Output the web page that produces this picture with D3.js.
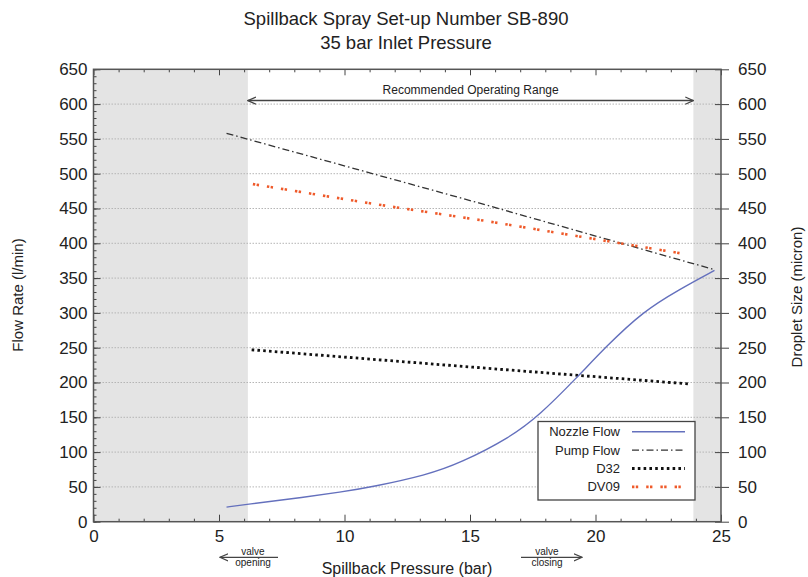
<!DOCTYPE html>
<html>
<head>
<meta charset="utf-8">
<script src="https://cdn.jsdelivr.net/npm/d3@7"></script>
<style>
body{margin:0;background:#fff;}
text{font-family:"Liberation Sans",Arial,Helvetica,sans-serif;fill:#222;}
</style>
</head>
<body>
<svg id="chart" width="808" height="577"></svg>
<script>
// values
var nozzleX = [5.3, 6.1, 7.94, 9.94, 11.1, 13.26, 14.6, 16.6, 17.77, 19.23, 20.43, 21.89, 23.35, 24.74];
var nozzleY = [21, 25, 33, 43, 50, 67, 84, 121, 153, 206, 252, 302, 334, 361];
var pumpX = [5.3, 15.35, 24.75];
var pumpY = [558, 458, 362];
var d32X = [6.3, 15.12, 23.7];
var d32Y = [247, 222, 198];
var dv09X = [6.35, 11.27, 15.65, 23.5];
var dv09Y = [485, 456, 432, 385];
var xTicks = [0, 5, 10, 15, 20, 25];
var yTicks = [0, 50, 100, 150, 200, 250, 300, 350, 400, 450, 500, 550, 600, 650];
var xMinor = [1,2,3,4,6,7,8,9,11,12,13,14,16,17,18,19,21,22,23,24];
var shadeFrom = [0, 23.9];
var shadeTo = [6.15, 25];
var rangeFrom = 6.15, rangeTo = 23.9, rangeLevel = 605;

var margin = {left: 93.5, top: 69.3, right: 87, bottom: 55.3};
var width = 808 - margin.left - margin.right;
var height = 577 - margin.top - margin.bottom;

var svg = d3.select('#chart');
var g = svg.append('g').attr('transform', `translate(${margin.left},${margin.top})`);

var x = d3.scaleLinear().domain([0, 25]).range([0, width]);
var y = d3.scaleLinear().domain([0, 650]).range([height, 0]);

var defs = svg.append('defs');
defs.append('marker').attr('id', 'ah').attr('viewBox', '0 0 10 10')
    .attr('refX', 9).attr('refY', 5).attr('markerWidth', 9).attr('markerHeight', 9)
    .attr('markerUnits', 'userSpaceOnUse').attr('orient', 'auto-start-reverse')
  .append('path').attr('d', 'M0,1 L9,5 L0,9').attr('fill', 'none').attr('stroke', '#444').attr('stroke-width', 1.3);

// shaded regions
g.selectAll('.shade').data(shadeFrom).enter().append('rect')
    .attr('x', (d, i) => x(d)).attr('y', 0)
    .attr('width', (d, i) => x(shadeTo[i]) - x(d)).attr('height', height)
    .attr('fill', '#e4e4e4');

// grid
g.selectAll('.grid').data(yTicks.slice(1, -1)).enter().append('line')
    .attr('x1', 0).attr('x2', width).attr('y1', d => y(d)).attr('y2', d => y(d))
    .attr('stroke', '#b5b5b5').attr('stroke-width', 1).attr('stroke-dasharray', '1.5,1.5');

// axes
function clean(sel){ sel.select('.domain').remove(); sel.selectAll('line').attr('stroke', '#444'); }
g.append('g').call(d3.axisLeft(y).tickValues(d3.range(0, 651, 10)).tickSize(-3).tickFormat('')).call(clean);
g.append('g').call(d3.axisLeft(y).tickValues(yTicks).tickSize(-7).tickPadding(6)).call(clean)
  .selectAll('text').style('font-size', '17px').attr('fill', '#222');
g.append('g').attr('transform', `translate(${width},0)`)
  .call(d3.axisRight(y).tickValues(yTicks).tickSize(8).tickPadding(9)).call(clean)
  .selectAll('text').style('font-size', '17px').attr('fill', '#222');
g.append('g').attr('transform', `translate(${width},0)`)
  .call(d3.axisRight(y).tickValues(yTicks).tickSize(-6).tickFormat('')).call(clean);
g.append('g').attr('transform', `translate(0,${height})`)
  .call(d3.axisBottom(x).tickValues(xMinor).tickSize(-3).tickFormat('')).call(clean);
g.append('g').attr('transform', `translate(0,${height})`)
  .call(d3.axisBottom(x).tickValues(xTicks).tickSize(-7).tickPadding(8)).call(clean)
  .selectAll('text').style('font-size', '17px').attr('fill', '#222');
g.append('g').call(d3.axisTop(x).tickValues(xMinor).tickSize(-3).tickFormat('')).call(clean);
g.append('g').call(d3.axisTop(x).tickValues(xTicks).tickSize(-6).tickFormat('')).call(clean);

g.append('rect').attr('width', width).attr('height', height)
    .attr('fill', 'none').attr('stroke', '#555').attr('stroke-width', 1.5);

// series
var line = d3.line().x(d => x(d[0])).y(d => y(d[1]));
var smooth = d3.line().x(d => x(d[0])).y(d => y(d[1])).curve(d3.curveBasis);
var zip = (a, b) => a.map((v, i) => [v, b[i]]);

g.append('path').datum(zip(pumpX, pumpY)).attr('d', line)
    .attr('fill', 'none').attr('stroke', '#333').attr('stroke-width', 1.3)
    .attr('stroke-dasharray', '7,3,1.5,3');
g.append('path').datum(zip(dv09X, dv09Y)).attr('d', line)
    .attr('fill', 'none').attr('stroke', '#ef5a2a').attr('stroke-width', 2.6)
    .attr('stroke-dasharray', '2.4,1.4,2.4,8');
g.append('path').datum(zip(d32X, d32Y)).attr('d', line)
    .attr('fill', 'none').attr('stroke', '#111').attr('stroke-width', 2.8)
    .attr('stroke-dasharray', '2.6,3.2');
g.append('path').datum(zip(nozzleX, nozzleY)).attr('d', smooth)
    .attr('fill', 'none').attr('stroke', '#6470bd').attr('stroke-width', 1.4);

// recommended range arrow
g.append('line').attr('x1', x(rangeFrom)).attr('x2', x(rangeTo))
    .attr('y1', y(rangeLevel)).attr('y2', y(rangeLevel))
    .attr('stroke', '#444').attr('stroke-width', 1.5)
    .attr('marker-start', 'url(#ah)').attr('marker-end', 'url(#ah)');
g.append('text').attr('x', (x(rangeFrom) + x(rangeTo)) / 2).attr('y', y(rangeLevel) - 7)
    .attr('text-anchor', 'middle').style('font-size', '12px').text('Recommended Operating Range');

// legend
var legNames = ['Nozzle Flow', 'Pump Flow', 'D32', 'DV09'];
var legStyles = [
  {c: '#6470bd', w: 1.4, d: null},
  {c: '#333', w: 1.3, d: '7,3,1.5,3'},
  {c: '#111', w: 2.8, d: '2.6,3.2'},
  {c: '#ef5a2a', w: 2.6, d: '2.4,1.4,2.4,8'}
];
var leg = svg.append('g');
leg.append('rect').attr('x', 538).attr('y', 421.5).attr('width', 157).attr('height', 78.5)
    .attr('fill', '#fff').attr('stroke', '#444').attr('stroke-width', 1.3);
legNames.forEach(function(n, i){
  var yy = 431.7 + i * 18.4;
  leg.append('text').attr('x', 620).attr('y', yy + 4.5).attr('text-anchor', 'end')
     .style('font-size', '13px').text(n);
  leg.append('line').attr('x1', 632).attr('x2', 685).attr('y1', yy).attr('y2', yy)
     .attr('stroke', legStyles[i].c).attr('stroke-width', legStyles[i].w)
     .attr('stroke-dasharray', legStyles[i].d);
});

// titles
svg.append('text').attr('x', 406).attr('y', 25).attr('text-anchor', 'middle')
   .style('font-size', '18.5px').text('Spillback Spray Set-up Number SB-890');
svg.append('text').attr('x', 406).attr('y', 49).attr('text-anchor', 'middle')
   .style('font-size', '18.5px').text('35 bar Inlet Pressure');
svg.append('text').attr('x', 407).attr('y', 574).attr('text-anchor', 'middle')
   .style('font-size', '16px').text('Spillback Pressure (bar)');
svg.append('text').attr('transform', 'translate(23,295) rotate(-90)').attr('text-anchor', 'middle')
   .style('font-size', '15px').text('Flow Rate (l/min)');
svg.append('text').attr('transform', 'translate(802,297) rotate(-90)').attr('text-anchor', 'middle')
   .style('font-size', '15px').text('Droplet Size (micron)');

// valve notes
function valveNote(x1, x2, cx, word){
  svg.append('line').attr('x1', x1).attr('x2', x2).attr('y1', 557.3).attr('y2', 557.3)
     .attr('stroke', '#444').attr('stroke-width', 1.2).attr('marker-end', 'url(#ah)');
  svg.append('text').attr('x', cx).attr('y', 555).attr('text-anchor', 'middle')
     .style('font-size', '10px').text('valve');
  svg.append('text').attr('x', cx).attr('y', 566).attr('text-anchor', 'middle')
     .style('font-size', '10px').text(word);
}
valveNote(278, 220, 253, 'opening');
valveNote(521, 582, 547, 'closing');
</script>
</body>
</html>
